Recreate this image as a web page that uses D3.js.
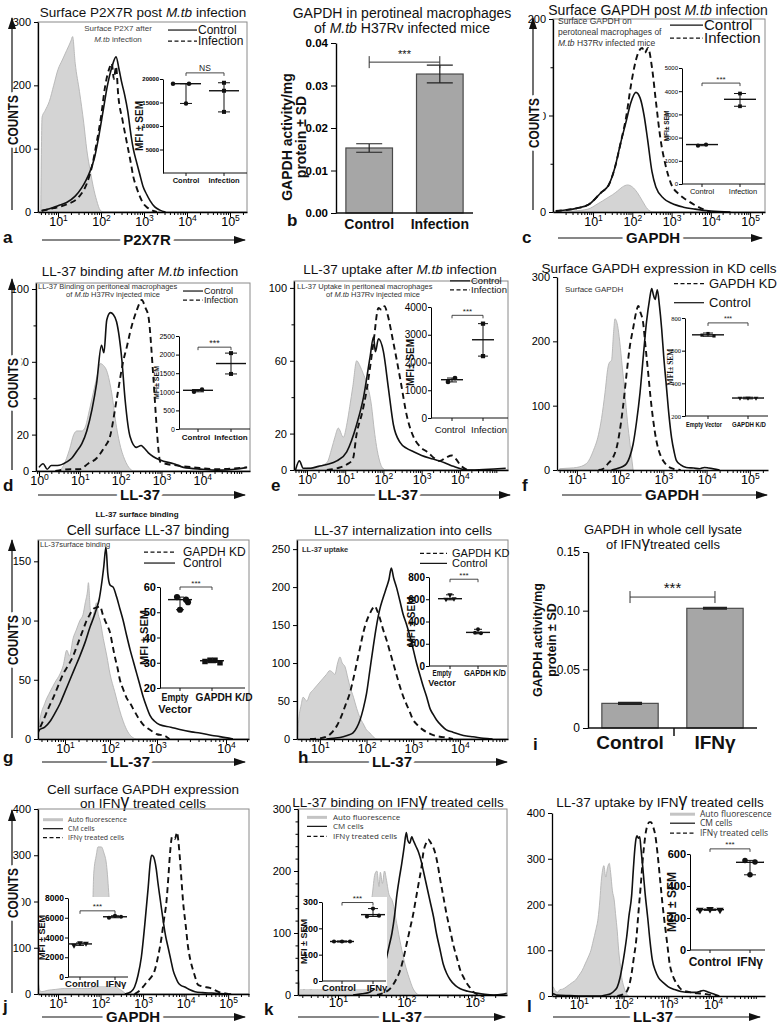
<!DOCTYPE html>
<html><head><meta charset="utf-8">
<script src="https://cdn.jsdelivr.net/npm/d3@7"></script>
<style>body{margin:0;background:#fff;}svg{font-family:"Liberation Sans",Arial,sans-serif;}</style>
</head><body>
<script>
// ===== DATA: histogram curves as [log10 intensity, count] =====
const aAuto=[[0.6,0],[0.63,150],[0.7,160],[0.8,175],[0.9,200],[1.0,225],[1.1,240],[1.2,255],[1.3,270],[1.34,277],[1.4,235],[1.5,190],[1.6,140],[1.67,98],[1.75,65],[1.82,40],[1.9,18],[1.98,3],[2.05,0]];
const aCtrl=[[0.62,2],[0.8,5],[1.0,10],[1.2,15],[1.4,25],[1.55,38],[1.65,50],[1.75,65],[1.85,86],[1.95,120],[2.05,160],[2.15,200],[2.25,228],[2.35,245],[2.42,225],[2.48,205],[2.55,185],[2.62,160],[2.7,120],[2.75,100],[2.83,78],[2.9,60],[2.98,40],[3.06,28],[3.14,18],[3.25,8],[3.37,3],[3.5,0]];
const aInf=[[0.62,2],[0.9,6],[1.2,12],[1.5,25],[1.67,45],[1.8,75],[1.9,110],[2.0,150],[2.1,200],[2.2,228],[2.25,235],[2.3,210],[2.35,230],[2.4,185],[2.5,145],[2.6,110],[2.7,75],[2.75,56],[2.82,40],[2.9,25],[3.0,12],[3.06,8],[3.2,2],[3.3,0]];
const cAuto=[[0.05,0],[0.5,1],[0.87,3],[1.1,8],[1.38,15],[1.5,18],[1.63,22],[1.75,26],[1.88,28],[2.0,26],[2.13,20],[2.25,12],[2.39,3],[2.5,0]];
const cCtrl=[[0.05,1],[0.3,2],[0.6,4],[0.9,8],[1.2,20],[1.4,28],[1.55,45],[1.7,71],[1.85,95],[1.96,113],[2.09,124],[2.2,118],[2.3,100],[2.39,75],[2.5,42],[2.6,26],[2.8,14],[3.0,9],[3.3,5],[3.6,3],[4.0,1],[4.5,0]];
const cInf=[[0.05,1],[0.3,2],[0.6,4],[0.9,8],[1.2,20],[1.4,28],[1.55,45],[1.7,71],[1.85,100],[1.96,130],[2.05,150],[2.15,165],[2.25,170],[2.32,165],[2.4,170],[2.5,150],[2.6,115],[2.72,75],[2.85,48],[2.98,30],[3.2,18],[3.4,12],[3.6,7],[3.8,3],[4.0,0]];
const dAuto=[[0.5,0],[0.6,3],[0.75,12],[0.85,20],[0.93,22],[1.05,22],[1.13,24],[1.23,33],[1.33,43],[1.42,52],[1.5,59],[1.58,58],[1.66,55],[1.78,43],[1.9,24],[2.0,13],[2.07,8],[2.2,2],[2.3,0]];
const dCtrl=[[0.0,2],[0.1,4],[0.2,1],[0.3,3],[0.45,3],[0.68,5],[0.8,7],[0.93,11],[1.05,15],[1.17,22],[1.3,34],[1.41,48],[1.53,69],[1.59,65],[1.66,83],[1.75,87],[1.82,86],[1.9,82],[2.03,61],[2.11,39],[2.23,19],[2.39,13],[2.5,14],[2.56,13],[2.68,10],[2.97,6],[3.3,4],[3.54,2],[4.0,1],[4.35,0.5],[4.8,1],[5.09,2]];
const dInf=[[0.4,0],[0.8,1],[1.0,1],[1.2,4],[1.41,7],[1.6,13],[1.74,19],[1.9,39],[2.07,61],[2.15,68],[2.23,76],[2.39,88],[2.52,94],[2.6,90],[2.68,85],[2.8,52],[2.88,25],[2.93,11],[2.97,5],[3.1,4],[3.4,3],[3.8,2],[4.3,1],[5.1,2]];
const eAuto=[[0.0,1],[0.3,2],[0.52,4],[0.65,12],[0.73,18],[0.82,23],[0.95,18],[1.05,26],[1.12,35],[1.2,46],[1.3,60],[1.39,57],[1.47,53],[1.56,48],[1.69,35],[1.76,22],[1.82,13],[1.9,5],[1.95,2],[2.05,0]];
const eCtrl=[[-0.3,0],[-0.2,5],[-0.1,1],[0.1,1],[0.3,2],[0.52,3],[0.78,5],[1.04,10],[1.3,25],[1.48,40],[1.65,62],[1.74,73],[1.79,65],[1.87,72],[2.0,65],[2.13,45],[2.26,25],[2.44,15],[2.6,12],[2.79,10],[3.0,8],[3.3,6],[3.6,4],[3.83,2],[4.2,0],[5.2,1]];
const eInf=[[0.52,0],[0.8,1],[1.04,3],[1.2,6],[1.3,20],[1.45,32],[1.57,45],[1.74,70],[1.87,89],[1.95,88],[2.03,90],[2.1,86],[2.26,70],[2.44,50],[2.61,30],[2.79,18],[2.95,13],[3.14,10],[3.48,5],[3.65,7],[3.79,8],[3.9,6],[4.0,3],[4.2,0]];
const fAuto=[[0.6,2],[0.84,3],[1.0,4],[1.22,10],[1.38,30],[1.5,55],[1.57,80],[1.65,120],[1.72,160],[1.76,168],[1.8,170],[1.85,215],[1.88,235],[1.94,225],[1.99,200],[2.05,160],[2.11,120],[2.17,75],[2.23,40],[2.3,0]];
const fKD=[[1.5,0],[1.61,2],[1.72,10],[1.84,20],[1.92,35],[1.99,60],[2.07,100],[2.15,150],[2.22,190],[2.3,220],[2.37,245],[2.42,255],[2.47,245],[2.53,230],[2.59,190],[2.65,150],[2.7,115],[2.76,80],[2.84,45],[2.92,25],[3.0,14],[3.07,8],[3.22,2],[3.4,0]];
const fCtrl=[[1.8,0],[1.92,2],[2.05,5],[2.15,10],[2.22,20],[2.3,40],[2.38,75],[2.46,120],[2.54,180],[2.61,230],[2.68,265],[2.73,282],[2.77,272],[2.81,265],[2.86,280],[2.91,255],[2.96,220],[3.01,175],[3.07,130],[3.13,85],[3.19,50],[3.25,28],[3.3,15],[3.4,8],[3.53,4],[3.7,3],[3.84,2],[3.95,4],[4.05,3],[4.3,0]];
const gAuto=[[0.4,0],[0.44,15],[0.55,30],[0.67,40],[0.78,48],[0.89,55],[0.96,62],[1.04,75],[1.1,70],[1.18,85],[1.25,92],[1.33,100],[1.4,105],[1.45,115],[1.5,125],[1.52,132],[1.56,110],[1.59,100],[1.65,108],[1.7,115],[1.74,105],[1.78,100],[1.85,85],[1.93,70],[2.0,55],[2.1,40],[2.2,25],[2.28,15],[2.38,6],[2.46,2],[2.55,0]];
const gCtrl=[[0.4,5],[0.44,8],[0.55,10],[0.67,15],[0.78,22],[0.89,30],[1.0,40],[1.11,50],[1.22,60],[1.33,70],[1.45,82],[1.56,95],[1.63,102],[1.7,110],[1.76,118],[1.81,130],[1.86,145],[1.91,162],[1.95,140],[2.0,130],[2.07,128],[2.14,120],[2.21,110],[2.28,100],[2.35,88],[2.43,75],[2.5,65],[2.57,55],[2.64,45],[2.71,35],[2.78,27],[2.85,20],[2.95,15],[3.04,12],[3.2,10],[3.33,8],[3.5,6],[3.62,5],[3.8,3],[3.91,2],[4.1,0]];
const gKD=[[0.45,10],[0.51,15],[0.62,25],[0.74,35],[0.85,45],[0.96,55],[1.07,62],[1.18,70],[1.26,78],[1.33,85],[1.4,92],[1.48,100],[1.55,105],[1.63,110],[1.7,111],[1.78,112],[1.84,105],[1.89,100],[1.95,95],[2.0,90],[2.05,80],[2.1,70],[2.16,60],[2.21,50],[2.28,42],[2.35,35],[2.43,30],[2.5,25],[2.6,18],[2.71,12],[2.8,9],[2.92,6],[3.0,4],[3.1,3],[3.18,0]];
const hAuto=[[0.52,0],[0.54,20],[0.6,45],[0.64,55],[0.72,50],[0.79,60],[0.86,65],[0.93,70],[1.0,75],[1.07,80],[1.14,85],[1.21,90],[1.27,88],[1.32,85],[1.38,100],[1.43,108],[1.48,100],[1.54,95],[1.6,80],[1.64,70],[1.72,55],[1.79,40],[1.86,28],[1.93,20],[2.0,12],[2.07,8],[2.14,3],[2.21,0]];
const hKD=[[0.79,0],[1.0,1],[1.14,3],[1.28,10],[1.37,18],[1.46,30],[1.55,45],[1.64,60],[1.72,80],[1.79,100],[1.86,120],[1.93,140],[2.0,155],[2.07,165],[2.13,172],[2.18,175],[2.22,170],[2.28,160],[2.35,145],[2.43,130],[2.5,115],[2.57,100],[2.64,85],[2.71,70],[2.78,57],[2.86,45],[2.93,35],[3.0,25],[3.1,18],[3.21,12],[3.32,8],[3.43,5],[3.57,3],[3.71,2],[3.85,0]];
const hCtrl=[[1.14,0],[1.3,1],[1.5,3],[1.6,5],[1.71,8],[1.79,15],[1.86,25],[1.93,40],[2.0,60],[2.07,90],[2.14,120],[2.21,148],[2.28,170],[2.35,185],[2.43,200],[2.48,210],[2.53,225],[2.58,212],[2.64,200],[2.71,183],[2.78,165],[2.86,150],[2.93,135],[3.0,118],[3.07,100],[3.14,85],[3.21,70],[3.29,55],[3.36,40],[3.43,32],[3.5,25],[3.6,18],[3.71,12],[3.85,9],[4.0,6],[4.14,4],[4.28,3],[4.5,1],[4.7,0]];
const jAuto=[[0.5,0],[0.53,25],[0.57,8],[0.62,5],[0.76,8],[0.95,10],[1.16,12],[1.35,12],[1.55,12],[1.7,12],[1.78,12],[1.81,150],[1.84,260],[1.9,300],[1.94,318],[2.02,318],[2.08,305],[2.14,280],[2.2,210],[2.25,140],[2.3,60],[2.35,25],[2.4,14],[2.49,8],[2.6,0]];
const jCtrl=[[2.57,0],[2.72,5],[2.8,15],[2.88,40],[2.96,80],[3.04,150],[3.12,230],[3.17,285],[3.2,300],[3.24,298],[3.27,290],[3.31,270],[3.35,240],[3.41,200],[3.47,160],[3.53,125],[3.59,100],[3.65,75],[3.71,50],[3.77,35],[3.82,25],[3.9,18],[3.98,15],[4.1,9],[4.22,5],[4.4,3],[4.61,2],[4.8,1],[5.07,0]];
const jIFN=[[2.8,0],[2.95,10],[3.04,20],[3.15,32],[3.27,50],[3.35,80],[3.43,120],[3.49,160],[3.55,200],[3.6,260],[3.63,300],[3.66,330],[3.68,340],[3.72,338],[3.75,335],[3.78,345],[3.8,350],[3.83,330],[3.86,300],[3.9,250],[3.94,200],[4.0,150],[4.06,100],[4.12,70],[4.18,50],[4.24,32],[4.29,20],[4.37,17],[4.45,15],[4.53,14],[4.61,12],[4.7,8],[4.76,5],[4.9,2],[5.0,0]];
const kAuto=[[0.42,10],[0.46,25],[0.5,8],[0.55,22],[0.6,8],[0.65,24],[0.7,10],[0.75,22],[0.8,10],[0.88,20],[0.95,12],[1.05,18],[1.15,22],[1.25,35],[1.33,60],[1.42,110],[1.5,160],[1.54,195],[1.57,200],[1.6,175],[1.62,198],[1.65,180],[1.68,200],[1.71,185],[1.74,165],[1.8,150],[1.86,115],[1.92,80],[1.98,50],[2.04,28],[2.1,10],[2.18,0]];
const kCtrl=[[1.22,0],[1.35,2],[1.47,5],[1.57,15],[1.66,40],[1.71,60],[1.75,80],[1.79,100],[1.83,130],[1.86,160],[1.9,190],[1.93,210],[1.97,240],[2.0,262],[2.02,250],[2.05,245],[2.08,255],[2.1,250],[2.14,240],[2.18,230],[2.22,215],[2.25,200],[2.3,175],[2.35,150],[2.4,125],[2.44,100],[2.49,75],[2.54,50],[2.59,35],[2.64,25],[2.72,15],[2.79,10],[2.9,6],[3.03,3],[3.15,1],[3.28,0],[3.4,1],[3.47,3]];
const kIFN=[[1.57,0],[1.7,5],[1.76,10],[1.85,25],[1.91,40],[1.96,60],[2.0,80],[2.05,105],[2.1,130],[2.14,155],[2.18,180],[2.22,205],[2.25,230],[2.29,245],[2.32,251],[2.36,245],[2.42,230],[2.46,210],[2.49,190],[2.54,160],[2.59,130],[2.64,105],[2.69,80],[2.74,60],[2.79,40],[2.84,28],[2.88,20],[2.93,12],[2.98,5],[3.08,0]];
const lAuto=[[0.4,0],[0.42,20],[0.47,12],[0.52,8],[0.58,14],[0.64,15],[0.72,20],[0.79,25],[0.86,30],[0.93,35],[1.0,45],[1.07,55],[1.14,70],[1.21,85],[1.27,100],[1.32,120],[1.38,145],[1.43,170],[1.47,210],[1.5,250],[1.53,275],[1.56,285],[1.6,260],[1.64,280],[1.68,290],[1.71,270],[1.75,230],[1.79,210],[1.82,180],[1.86,140],[1.89,100],[1.93,65],[1.96,40],[2.0,22],[2.04,10],[2.11,0]];
const lCtrl=[[0.4,0],[0.43,5],[0.5,2],[0.8,1],[1.2,0],[1.5,0],[1.6,2],[1.71,5],[1.8,12],[1.86,20],[1.92,40],[1.96,60],[2.02,95],[2.07,130],[2.12,175],[2.18,220],[2.22,280],[2.25,320],[2.28,345],[2.3,350],[2.33,345],[2.36,348],[2.39,320],[2.43,280],[2.48,225],[2.54,170],[2.59,120],[2.64,80],[2.71,55],[2.78,40],[2.9,28],[3.0,20],[3.14,14],[3.28,10],[3.5,8],[3.64,8],[3.7,10],[3.78,12],[3.9,8],[4.0,5],[4.14,0]];
const lIFN=[[1.86,0],[2.0,4],[2.07,10],[2.13,25],[2.18,50],[2.23,85],[2.28,120],[2.33,180],[2.39,250],[2.43,300],[2.46,330],[2.5,360],[2.54,375],[2.58,380],[2.61,380],[2.66,370],[2.71,350],[2.76,310],[2.82,250],[2.87,200],[2.93,150],[2.98,110],[3.03,70],[3.08,50],[3.14,35],[3.2,25],[3.28,15],[3.4,10],[3.5,8],[3.65,6],[3.78,5],[3.9,3],[4.0,2],[4.1,0]];

// ===== DATA: insets (MFI ± SEM) =====
const infCats=["Control","Infection"];
const kdCats=["Empty\nVector","GAPDH K/D"];
const ifnCats=["Control","IFNγ"];
const aPts=[[19000,19000,14800],[19200,17500,13000]], aMean=[19000,17500], aErr=[[14800,19000],[13000,19200]];
const cPts=[[1650,1700],[3900,3350]], cMean=[1700,3650], cErr=[[1650,1700],[3350,3900]];
const dPts=[[1000,1060],[2040,1480]], dMean=[1040,1760], dErr=[[1000,1060],[1480,2040]];
const ePts=[[1300,1440],[3400,2230]], eMean=[1380,2820], eErr=[[1300,1440],[2230,3400]];
const fPts=[[695,705,690],[310,310,310]], fMean=[697,310], fErr=[[688,708],[305,315]];
const gPts=[[56,55,54,51],[30.5,31,31,30]], gMean=[55,30.8], gErr=[[51,56],[30,31]];
const hPts=[[640,600,605],[330,300,295]], hMean=[605,302], hErr=[[595,640],[290,330]];
const jPts=[[3200,3450,3400],[6000,6200,6100]], jMean=[3350,6100], jErr=[[3200,3450],[6000,6200]];
const kPts=[[150,150,150],[275,245,248]], kMean=[150,252], kErr=[[148,152],[245,275]];
const lPts=[[250,255,250],[560,550,470]], lMean=[252,548], lErr=[[248,256],[470,560]];

// ===== DATA: bar charts =====
const bCats=["Control","Infection"], bVals=[0.0153,0.0327], bErrs=[0.001,0.0021], bTicks=[0,0.01,0.02,0.03,0.04];
const iCats=["Control","IFNγ"], iVals=[0.021,0.102], iErrs=[0.0006,0.0004], iTicks=[0,0.05,0.10,0.15];

// ===== legends & tick labels =====
const infLegend=["Control","Infection"];
const kdLegend=["GAPDH KD","Control"];
const ifnLegend=["Auto fluorescence","CM cells","IFNγ treated cells"];
const exps05=[0,1,2,3,4,5];

// ===== drawing =====
const svg=d3.select("body").append("svg").attr("width",783).attr("height",1025);
const defs=svg.append("defs");
defs.append("marker").attr("id","arr").attr("viewBox","0 0 12 8").attr("refX",11).attr("refY",4)
  .attr("markerWidth",12).attr("markerHeight",8).attr("markerUnits","userSpaceOnUse").attr("orient","auto")
  .append("path").attr("d","M0,0L12,4L0,8Z").attr("fill","#111");

function addText(x,y,parts,o){
  o=o||{};
  const t=svg.append("text").attr("x",x).attr("y",y).attr("text-anchor",o.anchor||"middle")
    .attr("font-size",o.size||12).attr("font-weight",o.weight||"normal").attr("fill",o.fill||"#111");
  if(o.family) t.attr("font-family",o.family);
  parts.forEach(p=>{
    if(typeof p==="string") t.append("tspan").text(p);
    else{const s=t.append("tspan").text(p[0]);
      if(p[1]==="i") s.attr("font-style","italic");
      if(p[1]==="g") s.attr("font-size","1.3em").attr("baseline-shift","4%");}
  });
  return t;
}
function hArrow(x1,x2,y,cx,label){
  svg.append("line").attr("x1",x1).attr("x2",x2).attr("y1",y).attr("y2",y).attr("stroke","#111").attr("stroke-width",1.2).attr("marker-end","url(#arr)");
  svg.append("text").attr("x",cx).attr("y",y+5).attr("text-anchor","middle").attr("font-size",15).attr("font-weight","bold")
    .attr("stroke","#fff").attr("stroke-width",8).attr("paint-order","stroke").attr("fill","#111").text(label);
}
function vArrow(x,yb,yt,cy){
  svg.append("line").attr("x1",x).attr("x2",x).attr("y1",yb).attr("y2",yt).attr("stroke","#111").attr("stroke-width",1.2).attr("marker-end","url(#arr)");
  svg.append("text").attr("transform",`translate(${x+6},${cy}) rotate(-90)`).attr("text-anchor","middle").attr("font-size",15).attr("font-weight","bold")
    .attr("textLength",50).attr("lengthAdjust","spacingAndGlyphs")
    .attr("stroke","#fff").attr("stroke-width",8).attr("paint-order","stroke").attr("fill","#111").text("COUNTS");
}
function hist(p){
  const g=svg.append("g");
  const xr=p.xr||[p.L,p.R];
  const x=d3.scaleLinear().domain(p.xd).range(xr);
  const y=d3.scaleLinear().domain(p.yd).range([p.B,p.T]);
  const cid="clip_"+p.id;
  defs.append("clipPath").attr("id",cid).append("rect").attr("x",p.L).attr("y",p.T-3).attr("width",p.R-p.L).attr("height",p.B-p.T+3);
  if(p.frame) g.append("rect").attr("x",p.L).attr("y",p.T).attr("width",p.R-p.L).attr("height",p.B-p.T).attr("fill","none").attr("stroke","#8a8a8a").attr("stroke-width",1);
  const cg=g.append("g").attr("clip-path",`url(#${cid})`);
  const area=d3.area().x(d=>x(d[0])).y0(y(0)).y1(d=>y(d[1])).curve(d3.curveMonotoneX);
  const line=d3.line().x(d=>x(d[0])).y(d=>y(d[1])).curve(d3.curveMonotoneX);
  p.curves.forEach(c=>{
    if(c.k==="fill") cg.append("path").attr("d",area(c.d)).attr("fill","#d4d4d4").attr("stroke","#b4b4b4").attr("stroke-width",0.9);
    else cg.append("path").attr("d",line(c.d)).attr("fill","none").attr("stroke","#111")
      .attr("stroke-width",c.k==="dashed"?1.9:1.6).attr("stroke-dasharray",c.k==="dashed"?"6,4":null);
  });
  const ya=g.append("g").attr("transform",`translate(${p.L},0)`)
    .call(d3.axisLeft(y).tickValues(p.yt).tickSize(4).tickSizeOuter(0).tickFormat(d=>(p.yl||p.yt).includes(d)?d:""));
  ya.attr("font-family",null).attr("font-size",p.yfs||11);
  ya.select(".domain").attr("stroke-width",1.3);
  ya.selectAll(".tick line").attr("x2",d=>(p.yl||p.yt).includes(d)?-4:-2.5);
  const lo=p.xd[0], hi=p.xd[p.xd.length-1];
  const majors=exps05.filter(e=>e>=lo&&e<=hi&&(!p.xt||p.xt.includes(e)));
  const xa=g.append("g").attr("transform",`translate(0,${p.B})`)
    .call(d3.axisBottom(x).tickValues(majors).tickSize(5).tickSizeOuter(0).tickFormat(()=>"10"));
  xa.attr("font-family",null).attr("font-size",p.xfs||12.5);
  xa.select(".domain").attr("stroke-width",1.3);
  xa.selectAll(".tick text").attr("y",p.xly||5).append("tspan").attr("font-size","0.68em").attr("dy","-0.6em").text(d=>d);
  const minors=[];
  for(let e=Math.floor(lo);e<hi;e++) for(let k=2;k<=9;k++){const v=e+Math.log10(k); if(v>lo&&v<hi) minors.push(v);}
  g.append("g").attr("transform",`translate(0,${p.B})`).call(d3.axisBottom(x).tickValues(minors).tickSize(3).tickFormat(""))
    .select(".domain").remove();
  return {x,y};
}
const symMap={circle:d3.symbolCircle,square:d3.symbolSquare,tri:d3.symbolTriangle};
function inset(q){
  const g=svg.append("g");
  if(q.bg) g.append("rect").attr("x",q.bg[0]).attr("y",q.bg[1]).attr("width",q.bg[2]).attr("height",q.bg[3]).attr("fill","#fff");
  const y=d3.scaleLinear().domain(q.yd).range([q.yb,q.yt]);
  const x=d3.scalePoint().domain(q.cats).range(q.cx);
  const ya=g.append("g").attr("transform",`translate(${q.ax},0)`)
    .call(d3.axisLeft(y).tickValues(q.ticks).tickSize(3).tickSizeOuter(0).tickFormat(d3.format("d")));
  ya.attr("font-family",q.serif?"'Liberation Serif',serif":null).attr("font-size",q.tf).attr("font-weight",q.tw||"normal");
  ya.selectAll(".tick text").attr("x",-4);
  g.append("line").attr("x1",q.ax).attr("x2",q.ar).attr("y1",q.yb).attr("y2",q.yb).attr("stroke","#111").attr("stroke-width",1);
  q.cats.forEach((c,i)=>{
    const cx=x(c);
    const lx=q.lxo?q.lxo[i]:cx;
    g.append("line").attr("x1",cx).attr("x2",cx).attr("y1",q.yb).attr("y2",q.yb+3).attr("stroke","#111");
    const t=g.append("text").attr("x",lx).attr("y",q.cy).attr("text-anchor","middle").attr("font-size",q.cf).attr("font-weight",q.cfw||"bold").attr("fill","#111");
    c.split("\n").forEach((ln,j)=>{
      const s=t.append("tspan").attr("x",lx).attr("dy",j?"1.1em":0).text(ln);
      if(q.clen&&q.clen[i]&&j===0) s.attr("textLength",q.clen[i]).attr("lengthAdjust","spacingAndGlyphs");
    });
    const [elo,ehi]=q.err[i];
    g.append("path").attr("d",`M${cx},${y(elo)}V${y(ehi)}M${cx-q.cw},${y(elo)}H${cx+q.cw}M${cx-q.cw},${y(ehi)}H${cx+q.cw}`)
      .attr("stroke","#111").attr("stroke-width",1).attr("fill","none");
    g.append("line").attr("x1",cx-q.mw).attr("x2",cx+q.mw).attr("y1",y(q.mean[i])).attr("y2",y(q.mean[i])).attr("stroke","#111").attr("stroke-width",1.4);
    const st=q.sym[i];
    q.pts[i].forEach((v,j)=>{
      const jx=q.jit?q.jit[i][j]:0;
      g.append("path").attr("transform",`translate(${cx+jx},${y(v)})${st==="tri"?" rotate(180)":""}`)
        .attr("d",d3.symbol().type(symMap[st]).size(q.ms)()).attr("fill","#111");
    });
  });
  const x0=x(q.cats[0]), x1=x(q.cats[1]), by=y(q.br);
  g.append("path").attr("d",`M${x0},${by+3}V${by}H${x1}V${by+3}`).attr("fill","none").attr("stroke","#333").attr("stroke-width",0.9);
  g.append("text").attr("x",(x0+x1)/2).attr("y",by-1.5).attr("text-anchor","middle").attr("font-size",q.sigf||8).attr("fill","#222").text(q.sig);
  g.append("text").attr("transform",`translate(${q.lx},${(q.yt+q.yb)/2}) rotate(-90)`).attr("text-anchor","middle")
    .attr("font-size",q.lf).attr("font-weight","bold").attr("fill","#111")
    .attr("font-family",q.serif?"'Liberation Serif',serif":null).text(q.lab);
}
function legend(L){
  L.items.forEach((it,i)=>{
    const yy=L.ys[i], k=L.kinds[i], ly=yy-L.fs*0.33;
    svg.append("line").attr("x1",L.x1).attr("x2",L.x2).attr("y1",ly).attr("y2",ly)
      .attr("stroke",k==="fill"?"#c4c4c4":"#111").attr("stroke-width",k==="fill"?3:1.2)
      .attr("stroke-dasharray",k==="dashed"?"4,2.5":null);
    addText(L.tx,yy,[it],{anchor:"start",size:L.fs,fill:L.fill||"#111",family:L.family});
  });
}
function bars(p){
  const x=d3.scaleBand().domain(p.cats).range([p.L,p.R]).paddingInner(p.pi).paddingOuter(p.po);
  const y=d3.scaleLinear().domain([0,p.ymax]).range([p.B,p.T]);
  const g=svg.append("g");
  g.selectAll("rect.bar").data(p.vals).join("rect").attr("class","bar")
    .attr("x",(d,i)=>x(p.cats[i])).attr("y",d=>y(d)).attr("width",x.bandwidth()).attr("height",d=>p.B-y(d))
    .attr("fill","#a6a6a6").attr("stroke","#4a4a4a").attr("stroke-width",1.2);
  p.vals.forEach((v,i)=>{
    const cx=x(p.cats[i])+x.bandwidth()/2, e=p.errs[i];
    g.append("path").attr("d",`M${cx-p.cw},${y(v+e)}H${cx+p.cw}M${cx},${y(v+e)}V${y(v-e)}M${cx-p.cw},${y(v-e)}H${cx+p.cw}`)
      .attr("stroke","#222").attr("stroke-width",p.ew).attr("fill","none");
  });
  const ya=g.append("g").attr("transform",`translate(${p.L},0)`)
    .call(d3.axisLeft(y).tickValues(p.ticks).tickSize(5).tickSizeOuter(0).tickFormat(p.fmt));
  ya.attr("font-family",null).attr("font-size",p.tfs).attr("font-weight",p.tfw);
  ya.select(".domain").attr("stroke-width",1.4);
  g.append("line").attr("x1",p.L).attr("x2",p.R).attr("y1",p.B).attr("y2",p.B).attr("stroke","#111").attr("stroke-width",1.4);
  if(p.midTick) g.append("line").attr("x1",p.midTick).attr("x2",p.midTick).attr("y1",p.B).attr("y2",p.B+8).attr("stroke","#111").attr("stroke-width",1.5);
  p.cats.forEach((c,i)=>{const cx=x(c)+x.bandwidth()/2; addText(cx,p.ly,[c],{size:p.lfs,weight:"bold"});});
  const x0=x(p.cats[0])+x.bandwidth()/2, x1=x(p.cats[1])+x.bandwidth()/2, by=y(p.br);
  g.append("path").attr("d",`M${x0},${by+6}V${by-6}M${x0},${by}H${x1}M${x1},${by+6}V${by-6}`).attr("stroke","#333").attr("stroke-width",1).attr("fill","none");
  addText((x0+x1)/2,by-4,["***"],{size:p.sf});
  p.ylab.forEach((t,i)=>{
    svg.append("text").attr("transform",`translate(${p.ylx[i]},${p.ylc}) rotate(-90)`).attr("text-anchor","middle")
      .attr("font-size",p.ylf).attr("font-weight","bold").attr("fill","#111").text(t);
  });
}

// ---------- Panel a ----------
addText(143,17,["Surface P2X7R post ",["M.tb","i"]," infection"],{size:13.5});
hist({id:"a",L:38,T:22,R:247,B:212,xd:[0.535,5.395],yd:[0,300],yt:[0,100,200,300],frame:true,
  curves:[{k:"fill",d:aAuto},{k:"dashed",d:aInf},{k:"solid",d:aCtrl}]});
addText(118,31,["Surface P2X7 after"],{size:8,fill:"#444"});
addText(118,42,[["M.tb","i"],"  infection"],{size:8,fill:"#444"});
legend({items:infLegend,kinds:["solid","dashed"],x1:168,x2:197,tx:198,ys:[34,45],fs:12});
inset({ax:163,ar:247,yd:[0,20000],yb:173,yt:79,ticks:[5000,10000,15000,20000],tf:6,tw:"bold",cats:infCats,cx:[186,224],cy:183,cf:7.5,
  pts:aPts,mean:aMean,err:aErr,sym:["circle","square"],ms:16,jit:[[-13,3,0],[0,0,0]],mw:15,cw:6,br:21300,sig:"NS",sigf:8.5,lx:143,lf:10,lab:"MFI ± SEM"});
vArrow(12,210,18,120);
hArrow(42,245,240,147,"P2X7R");
addText(3,243,["a"],{anchor:"start",size:17,weight:"bold"});

// ---------- Panel b ----------
addText(402,18,["GAPDH in perotineal macrophages"],{size:14});
addText(402,33,["of ",["M.tb","i"]," H37Rv infected mice"],{size:14});
bars({cats:bCats,vals:bVals,errs:bErrs,L:336,R:473,T:43,B:213,ymax:0.04,pi:0.34,po:0.14,cw:13,ew:1.2,ticks:bTicks,
  fmt:d3.format(".2f"),tfs:11.5,tfw:"bold",ly:229,lfs:14,br:0.0355,sf:11,ylab:["GAPDH activity/mg","protein ± SD"],ylx:[292,306],ylc:137,ylf:14});
addText(287,226,["b"],{anchor:"start",size:17,weight:"bold"});

// ---------- Panel c ----------
addText(658,15,["Surface GAPDH post ",["M.tb","i"]," infection"],{size:14});
hist({id:"c",L:553,T:19,R:765,B:212,xd:[-0.02,5.38],yd:[0,200],yt:[0,50,100,150,200],yl:[0,100,200],frame:true,xt:[1,2,3,4,5],
  curves:[{k:"fill",d:cAuto},{k:"dashed",d:cInf},{k:"solid",d:cCtrl}]});
addText(558,24,["Surface  GAPDH on"],{anchor:"start",size:8.5,fill:"#333"});
addText(558,35,["perotoneal macrophages of"],{anchor:"start",size:8.5,fill:"#333"});
addText(558,46,[["M.tb","i"]," H37Rv infected mice"],{anchor:"start",size:8.5,fill:"#333"});
legend({items:infLegend,kinds:["solid","dashed"],x1:670,x2:703,tx:704,ys:[30,43],fs:15});
inset({ax:682,ar:765,yd:[0,5000],yb:184,yt:68,ticks:[0,1000,2000,3000,4000,5000],tf:6,cats:infCats,cx:[702,740],cy:194,cf:7.5,cfw:"normal",lxo:[702,743],
  pts:cPts,mean:cMean,err:cErr,sym:["circle","square"],ms:14,jit:[[-4,4],[0,0]],mw:16,cw:6,br:4350,sig:"***",lx:669,lf:6.5,lab:"MFI± SEM"});
vArrow(533,210,18,123);
hArrow(558,762,238,653,"GAPDH");
addText(522,243,["c"],{anchor:"start",size:17,weight:"bold"});

// ---------- Panel d ----------
addText(140,276,["LL-37 binding after ",["M.tb","i"]," infection"],{size:13.5});
hist({id:"d",L:36,T:283,R:250,B:471,xd:[-0.074,5.17],yd:[0,103.3],yt:[0,20,40,60,80,100],yl:[0,20,60,100],frame:true,xt:[0,1,2,3,4],
  curves:[{k:"fill",d:dAuto},{k:"dashed",d:dInf},{k:"solid",d:dCtrl}]});
addText(38,289,["LL-37 Binding on peritoneal macrophages"],{anchor:"start",size:7.5,fill:"#333"});
addText(113,297,["of ",["M.tb","i"]," H37Rv injected mice"],{size:7.5,fill:"#333"});
legend({items:infLegend,kinds:["solid","dashed"],x1:183,x2:203,tx:204,ys:[294,303],fs:9});
inset({ax:179,ar:250,yd:[0,2500],yb:429,yt:336,ticks:[0,500,1000,1500,2000,2500],tf:7,cats:infCats,cx:[198,231],cy:440,cf:8,cfw:"bold",lxo:[196,231],
  pts:dPts,mean:dMean,err:dErr,sym:["circle","square"],ms:16,jit:[[-4,4],[0,0]],mw:15,cw:6,br:2200,sig:"***",sigf:9,lx:159,lf:7,lab:"MFI± SEM"});
vArrow(12,470,279,383);
hArrow(38,245,495,140,"LL-37");
addText(3,491,["d"],{anchor:"start",size:17,weight:"bold"});

// ---------- Panel e ----------
addText(400,274,["LL-37 uptake after ",["M.tb","i"]," infection"],{size:13.5});
hist({id:"e",L:294,T:281,R:508,B:470,xd:[-0.34,5.26],yd:[0,103.8],yt:[0,20,40,60,80,100],yl:[0,20,60,100],frame:true,xt:[0,1,2,3,4],
  curves:[{k:"fill",d:eAuto},{k:"dashed",d:eInf},{k:"solid",d:eCtrl}]});
addText(297,289,["LL-37 Uptake in peritoneal macrophages"],{anchor:"start",size:7.5,fill:"#333"});
addText(373,297,["of ",["M.tb","i"]," H37Rv injected mice"],{size:7.5,fill:"#333"});
legend({items:infLegend,kinds:["solid","dashed"],x1:450,x2:470,tx:471,ys:[284,293],fs:9.5});
inset({ax:431,ar:508,yd:[0,4000],yb:418,yt:307,ticks:[0,1000,2000,3000,4000],tf:10,cats:infCats,cx:[452,483],cy:433,cf:9.5,cfw:"normal",lxo:[450,489],
  pts:ePts,mean:eMean,err:eErr,sym:["circle","square"],ms:18,jit:[[-4,3],[0,0]],mw:11,cw:5,br:3700,sig:"***",lx:414,lf:10,lab:"MFI± SEM"});
hArrow(298,510,495,398,"LL-37");
addText(271,491,["e"],{anchor:"start",size:17,weight:"bold"});

// ---------- Panel f ----------
addText(659,273,["Surface GAPDH expression in KD cells"],{size:13.5});
hist({id:"f",L:557,T:277,R:768,B:470,xd:[0.54,5.42],yd:[0,300],yt:[0,100,200,300],frame:false,
  curves:[{k:"fill",d:fAuto},{k:"dashed",d:fKD},{k:"solid",d:fCtrl}]});
addText(565,292,["Surface GAPDH"],{anchor:"start",size:8,fill:"#333"});
legend({items:kdLegend,kinds:["dashed","solid"],x1:674,x2:704,tx:709,ys:[288,307],fs:13});
inset({ax:685,ar:768,yd:[200,800],yb:416,yt:318,ticks:[200,400,600,800],tf:6.5,serif:true,cats:["Empty Vector","GAPDH K/D"],cx:[708,748],cy:427,cf:7,cfw:"bold",
  lxo:[704,749],clen:[36,34],
  pts:fPts,mean:fMean,err:fErr,sym:["square","tri"],ms:10,jit:[[-6,0,6],[-8,0,8]],mw:16,cw:5,br:770,sig:"***",sigf:7,lx:673,lf:7.5,lab:"MFI± SEM"});
hArrow(562,767,495,672,"GAPDH");
addText(522,491,["f"],{anchor:"start",size:17,weight:"bold"});

// ---------- Panel g ----------
addText(137,517,["LL-37 surface binding"],{size:8,weight:"bold"});
addText(148,535,["Cell surface LL-37 binding"],{size:14});
hist({id:"g",L:38,T:540,R:249,B:739,xd:[0.4,1,2,3,4,4.33],xr:[38,65,110,157,226,249],yd:[0,168],yt:[0,50,100,150],frame:true,
  curves:[{k:"fill",d:gAuto},{k:"dashed",d:gKD},{k:"solid",d:gCtrl}]});
addText(40,547,["LL-37surface binding"],{anchor:"start",size:7.5,fill:"#333"});
legend({items:kdLegend,kinds:["dashed","solid"],x1:144,x2:175,tx:183,ys:[556,567],fs:12});
inset({ax:160,ar:245,yd:[20,60],yb:688,yt:587,ticks:[20,30,40,50,60],tf:11,tw:"bold",cats:kdCats,cx:[180,212],cy:701,cf:11,cfw:"bold",
  lxo:[175,224],clen:[27,57],
  pts:gPts,mean:gMean,err:gErr,sym:["circle","square"],ms:30,jit:[[-3,6,8,0],[-7,-2,3,8]],mw:12,cw:4,br:60,sig:"***",lx:148,lf:11,lab:"MFI ± SEM"});
vArrow(12,738,540,640);
hArrow(42,245,762,130,"LL-37");
addText(3,763,["g"],{anchor:"start",size:17,weight:"bold"});

// ---------- Panel h ----------
addText(403,535,["LL-37 internalization into cells"],{size:13.5});
hist({id:"h",L:297,T:540,R:508,B:739,xd:[0.51,5.03],yd:[0,262],yt:[0,50,100,150,200,250],frame:true,xt:[1,2,3,4],
  curves:[{k:"fill",d:hAuto},{k:"dashed",d:hKD},{k:"solid",d:hCtrl}]});
addText(302,552,["LL-37 uptake"],{anchor:"start",size:7.5,weight:"bold",fill:"#333"});
legend({items:kdLegend,kinds:["dashed","solid"],x1:420,x2:447,tx:452,ys:[557,567],fs:11});
inset({ax:429,ar:507,yd:[0,800],yb:666,yt:577,ticks:[0,200,400,600,800],tf:10,tw:"bold",cats:kdCats,cx:[450,478],cy:676,cf:9,cfw:"bold",
  lxo:[442,485],clen:[19,42],
  pts:hPts,mean:hMean,err:hErr,sym:["tri","circle"],ms:12,jit:[[0,-4,4],[0,-3,3]],mw:12,cw:4,br:780,sig:"***",lx:415,lf:10,lab:"MFI ± SEM"});
hArrow(300,507,762,392,"LL-37");
addText(298,763,["h"],{anchor:"start",size:17,weight:"bold"});

// ---------- Panel i ----------
addText(663,534,["GAPDH in whole cell lysate"],{size:13});
addText(663,549,["of IFN",["γ","g"],"treated cells"],{size:13});
bars({cats:iCats,vals:iVals,errs:iErrs,L:588,R:757,T:552,B:728,ymax:0.15,pi:0.337,po:0.163,cw:12,ew:2,ticks:iTicks,
  fmt:d=>d===0?"0":d.toFixed(2),tfs:12,tfw:"normal",ly:749,lfs:19,br:0.1116,sf:15,midTick:674,
  ylab:["GAPDH activity/mg","protein ± SD"],ylx:[542,556],ylc:640,ylf:12.5});
addText(533,750,["i"],{anchor:"start",size:17,weight:"bold"});

// ---------- Panel j ----------
addText(143,794,["Cell surface GAPDH expression"],{size:13.5});
addText(143,808,["on IFN",["γ","g"]," treated cells"],{size:13.5});
hist({id:"j",L:38,T:809,R:249,B:994,xd:[0.53,5.49],yd:[0,400],yt:[0,100,200,300,400],frame:true,
  curves:[{k:"fill",d:jAuto},{k:"dashed",d:jIFN},{k:"solid",d:jCtrl}]});
legend({items:ifnLegend,kinds:["fill","solid","dashed"],x1:43,x2:63,tx:68,ys:[822,831,840],fs:7,fill:"#333",family:"'Open Sans',sans-serif"});
inset({ax:68,ar:128,yd:[0,8000],yb:977,yt:898,ticks:[0,2000,4000,6000,8000],tf:8.5,tw:"bold",cats:ifnCats,cx:[80,115],cy:987,cf:9.5,cfw:"bold",lxo:[82,116],
  pts:jPts,mean:jMean,err:jErr,sym:["tri","circle"],ms:14,jit:[[-6,0,6],[-6,0,6]],mw:12,cw:4,br:6700,sig:"***",lx:45,lf:9,lab:"MFI ± SEM",bg:[40,897,89,89]});
vArrow(12,993,810,893);
hArrow(42,245,1017,133,"GAPDH");
addText(3,1012,["j"],{anchor:"start",size:17,weight:"bold"});

// ---------- Panel k ----------
addText(398,807,["LL-37 binding on IFN",["γ","g"]," treated cells"],{size:13.5});
hist({id:"k",L:298,T:809,R:507,B:995,xd:[0.414,3.474],yd:[0,300],yt:d3.range(0,301,20),yl:[0,100,200,300],frame:true,xfs:13,xly:3,
  curves:[{k:"fill",d:kAuto},{k:"dashed",d:kIFN},{k:"solid",d:kCtrl}]});
legend({items:ifnLegend,kinds:["fill","solid","dashed"],x1:307,x2:327,tx:333,ys:[820,829,839],fs:8,fill:"#333",family:"'Open Sans',sans-serif"});
inset({ax:322,ar:386,yd:[0,300],yb:981,yt:902,ticks:[0,100,200,300],tf:9,tw:"bold",cats:ifnCats,cx:[342,373],cy:991,cf:9.5,cfw:"bold",lxo:[339,377],
  pts:kPts,mean:kMean,err:kErr,sym:["circle","circle"],ms:14,jit:[[-8,0,8],[0,-6,6]],mw:12,cw:5,br:298,sig:"***",lx:307,lf:9,lab:"MFI ± SEM",bg:[300,897,87,92]});
hArrow(298,505,1017,402,"LL-37");
addText(264,1015,["k"],{anchor:"start",size:17,weight:"bold"});

// ---------- Panel l ----------
addText(660,807,["LL-37 uptake by IFN",["γ","g"]," treated cells"],{size:13.5});
hist({id:"l",L:552,T:813,R:765,B:996,xd:[0.4,5.16],yd:[0,400],yt:[0,100,200,300,400],frame:false,xt:[1,2,3,4],xfs:13,xly:4,
  curves:[{k:"fill",d:lAuto},{k:"dashed",d:lIFN},{k:"solid",d:lCtrl}]});
legend({items:ifnLegend,kinds:["fill","solid","dashed"],x1:670,x2:695,tx:700,ys:[817,826,836],fs:8.5,fill:"#333",family:"'Open Sans',sans-serif"});
inset({ax:690,ar:765,yd:[0,600],yb:950,yt:854,ticks:[0,200,400,600],tf:11,tw:"bold",cats:ifnCats,cx:[710,750],cy:966,cf:12,cfw:"bold",
  pts:lPts,mean:lMean,err:lErr,sym:["tri","circle"],ms:24,jit:[[-10,0,10],[-5,5,0]],mw:14,cw:6,br:632,sig:"***",lx:676,lf:12,lab:"MFI ± SEM"});
hArrow(553,760,1017,653,"LL-37");
addText(527,1012,["l"],{anchor:"start",size:17,weight:"bold"});
</script>
</body></html>
